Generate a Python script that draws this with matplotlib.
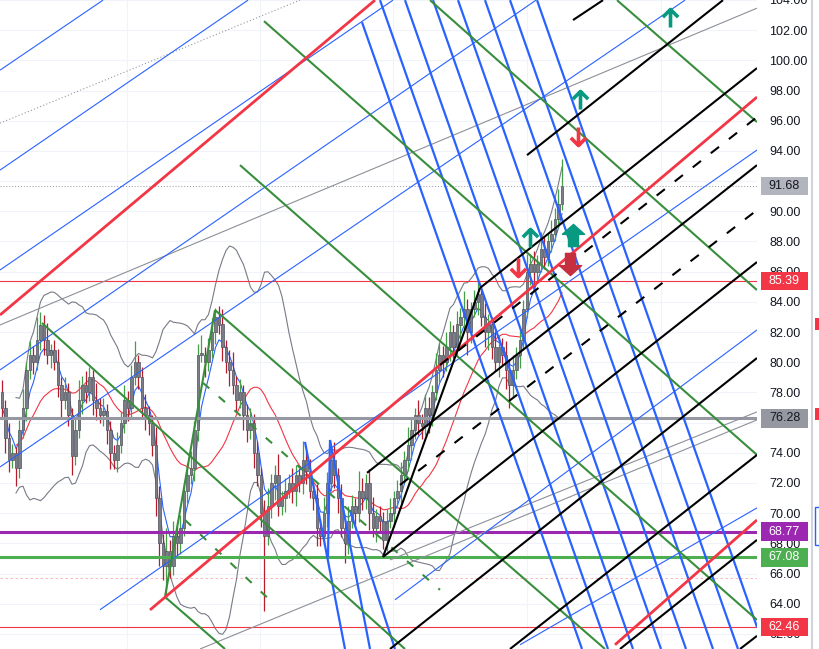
import numpy as np
import pandas as pd
import matplotlib
matplotlib.use("Agg")
import matplotlib.pyplot as plt
from matplotlib import transforms
from matplotlib.path import Path
from matplotlib.patches import Rectangle

plt.rcParams['font.family'] = ['Liberation Sans', 'DejaVu Sans']

# ---------------- data ----------------
# daily closes, oldest first; bar i sits at time slot X0 + STEP*i
closes = [77.0, 75.0, 73.5, 74.0, 73.0, 75.5, 77.0, 79.5, 80.5, 80.0,
          81.5, 82.5, 81.5, 80.5, 80.8, 80.0, 78.5, 77.5, 78.0, 76.5,
          73.8, 75.5, 77.5, 78.5, 78.0, 79.0, 77.5, 77.0, 76.5, 76.8,
          75.5, 74.0, 73.5, 74.5, 76.0, 77.5, 77.0, 79.0, 80.0, 79.0,
          77.0, 76.5, 76.0, 74.5, 71.0, 68.0, 66.5, 67.5, 66.5, 68.5,
          68.0, 69.0, 71.5, 72.5, 73.0, 75.5, 80.5, 80.5, 80.0, 80.8,
          82.0, 83.0, 82.5, 81.0, 80.0, 79.5, 78.5, 77.5, 78.0, 76.5,
          75.5, 76.0, 74.0, 72.5, 70.0, 68.5, 70.5, 72.0, 72.5, 70.5,
          71.0, 71.5, 72.0, 71.5, 72.5, 72.0, 73.5, 72.8, 71.5, 71.0,
          69.0, 68.5, 70.0, 72.0, 73.5, 72.5, 71.0, 69.0, 68.0, 69.5,
          70.5, 70.0, 71.5, 71.0, 72.0, 70.0, 69.0, 69.8, 69.5, 68.2,
          69.5, 70.0, 71.0, 71.5, 72.5, 73.5, 74.5, 75.5, 76.5, 76.0,
          75.8, 77.0, 76.5, 78.0, 79.5, 80.5, 80.0, 81.0, 82.0, 81.0,
          82.5, 83.0, 83.5, 82.0, 83.5, 84.0, 84.5, 83.0, 82.0, 82.5,
          81.0, 80.0, 81.0, 80.5, 79.5, 78.5, 79.5, 80.5, 81.5, 83.5,
          86.0, 86.5, 86.0, 86.5, 87.5, 87.0, 88.0, 88.5, 89.5, 90.5,
          91.68]
up_wick = [0.8, 0.5, 1.0, 0.6, 0.4, 0.7, 1.2, 0.5, 0.9, 0.6,
           1.5, 0.8, 0.6, 1.1, 0.4, 0.7, 0.9, 0.5, 1.0, 0.6,
           0.5, 0.8, 1.3, 0.6, 0.9, 0.7, 0.5, 1.1, 0.6, 0.8,
           0.4, 0.6, 0.5, 0.9, 0.7, 1.0, 0.6, 0.8, 1.4, 0.5,
           0.7, 0.9, 0.6, 0.5, 1.2, 0.8, 0.6, 1.5, 0.7, 1.0,
           0.6, 0.9, 0.5, 0.8, 1.1, 0.6, 0.7, 1.3, 0.5, 0.8,
           0.9, 0.6, 0.7, 1.0, 0.5, 0.8, 1.2, 0.6, 0.9, 0.5,
           0.7, 1.0, 0.6, 0.8, 0.5, 0.9, 1.2, 0.6, 0.7, 1.4,
           0.5, 0.8, 0.6, 1.0, 0.7, 0.5, 1.3, 0.6, 0.8, 0.5,
           0.9, 0.6, 1.1, 0.7, 0.8, 1.2, 0.5, 0.9, 0.6, 1.0,
           0.7, 0.5, 1.3, 0.8, 0.6, 0.9, 1.1, 0.5, 0.7, 0.6,
           0.8, 1.0, 0.5, 0.7, 0.9, 0.6, 1.2, 0.8, 0.5, 1.0,
           0.6, 0.9, 0.7, 0.5, 1.1, 0.8, 0.6, 1.0, 0.7, 0.5,
           0.9, 0.6, 1.2, 0.7, 0.5, 0.8, 1.0, 0.6, 0.9, 0.7,
           0.5, 1.1, 0.8, 0.6, 0.9, 0.7, 1.0, 0.5, 0.8, 0.6,
           1.2, 0.7, 0.9, 0.6, 1.1, 0.8, 0.5, 0.9, 0.7, 1.0,
           1.8]
down_wick = [0.6, 1.0, 0.8, 0.5, 1.2, 0.7, 0.5, 0.9, 0.6, 0.8,
             0.5, 0.7, 1.0, 0.6, 0.9, 0.5, 0.8, 1.1, 0.6, 0.7,
             1.3, 0.6, 0.5, 0.9, 0.7, 0.6, 1.0, 0.8, 0.5, 0.7,
             0.9, 1.1, 0.6, 0.8, 0.5, 0.7, 0.9, 0.6, 0.5, 0.8,
             0.6, 1.0, 0.8, 0.7, 1.2, 1.5, 0.9, 2.2, 0.8, 0.6,
             1.0, 0.7, 0.5, 0.8, 0.6, 0.9, 0.7, 0.5, 1.0, 0.6,
             0.5, 0.8, 0.6, 0.9, 0.7, 1.1, 0.6, 0.8, 0.5, 1.0,
             0.8, 0.6, 1.0, 0.7, 0.9, 5.0, 0.6, 0.8, 1.1, 0.7,
             0.6, 0.9, 0.5, 0.8, 1.0, 0.6, 0.7, 0.9, 0.5, 0.8,
             1.2, 0.7, 0.6, 0.9, 0.5, 0.8, 1.0, 0.6, 1.3, 0.7,
             0.5, 0.9, 0.6, 0.8, 0.7, 1.1, 0.6, 0.9, 0.8, 0.6,
             0.7, 0.5, 0.9, 0.6, 0.8, 0.5, 0.7, 1.0, 0.6, 0.8,
             0.9, 0.6, 1.2, 0.7, 0.5, 0.8, 1.0, 0.6, 0.9, 0.7,
             0.6, 1.1, 0.8, 1.5, 0.7, 0.5, 0.9, 0.6, 1.0, 1.2,
             0.8, 0.6, 1.0, 0.7, 1.3, 1.5, 0.8, 0.6, 0.9, 0.7,
             0.6, 0.9, 1.0, 0.7, 0.5, 0.8, 0.6, 0.7, 0.5, 0.6,
             0.4]

# horizontal levels: price, colour, width
levels = [(85.39, '#f23645', 0.8), (76.28, '#9598a1', 2.2),
          (68.77, '#9c27b0', 2.2), (67.08, '#4caf50', 2.2),
          (62.46, '#f23645', 0.8)]
# price labels on the scale: price, box colour, text colour
price_tags = [(91.68, '#b2b5be', '#131722'), (85.39, '#f23645', 'white'),
              (76.28, '#9598a1', '#131722'), (68.77, '#9c27b0', 'white'),
              (67.08, '#4caf50', 'white'), (62.46, '#f23645', 'white')]
last_price = 91.68

# trend line drawings: (t0, p0, t1, p1)
thin_blue = [(0, 99.35, 103, 103.99), (0, 92.73, 248, 103.99),
             (0, 86.11, 393, 103.99), (0, 79.49, 536, 103.99),
             (0, 73.06, 685, 103.99), (100, 63.6, 757, 94.06),
             (395, 64.26, 757, 82.14), (520, 61.28, 757, 70.35)]
thick_blue = [(362, 102.53, 582, 61.0), (380, 103.99, 608, 61.0),
              (405, 103.99, 633, 61.0), (433, 103.99, 661, 61.0),
              (458, 103.99, 686, 61.0), (485, 103.99, 713, 61.0),
              (510, 103.99, 738, 61.0), (537, 103.99, 757, 62.46),
              (305, 74.72, 345, 61.0), (330, 74.85, 370, 61.0),
              (328, 67.10, 330, 74.85), (350, 70.2, 395, 61.0)]
red_lines = [(0, 83.13, 375, 103.99), (150, 63.59, 757, 97.57),
             (615, 61.28, 757, 69.55)]
green_lines = [(430, 103.99, 757, 84.78), (264, 102.60, 757, 73.86),
               (240, 93.06, 757, 62.93), (617, 103.99, 757, 95.91),
               (42, 82.60, 405, 61.0), (215, 83.46, 605, 61.0),
               (165, 64.45, 215, 83.46), (165, 64.45, 225, 61.0)]
green_dashed = [(203, 78.63, 440, 64.92), (185, 69.55, 275, 63.92)]
black_lines = [(383, 67.10, 480, 84.92), (480, 84.92, 757, 99.49),
               (367, 72.67, 757, 93.06), (383, 67.10, 757, 86.64),
               (390, 61.0, 757, 80.28), (510, 61.0, 757, 73.86),
               (620, 61.0, 757, 68.23), (740, 61.0, 757, 61.87),
               (527, 93.72, 723, 103.99), (573, 102.67, 603, 103.99)]
black_dashed = [(440, 79.82, 757, 96.24), (400, 71.87, 757, 90.08)]
gray_lines = [(0, 82.47, 757, 103.46), (200, 61.0, 757, 76.18),
              (390, 66.90, 757, 76.71)]
gray_dotted = [(0, 95.84, 300, 103.99)]

# signal arrows: (t, price)
up_outline = [(670, 102.8), (580, 97.4), (530, 88.2)]
down_outline = [(578, 95.0), (518, 86.3)]
up_filled = [(573, 88.4)]
down_filled = [(570, 86.5)]

# ---------------- derived series ----------------
X0, STEP = 2.0, 3.5
c = np.array(closes)
o = np.r_[c[0] + 1.0, c[:-1]]
hi = np.maximum(o, c) + np.array(up_wick)
lo = np.minimum(o, c) - np.array(down_wick)
t = X0 + STEP * np.arange(len(c))

s = pd.Series(c)
mid = s.rolling(20, min_periods=5).mean()
sd = s.rolling(20, min_periods=5).std()
fast = s.ewm(span=5, adjust=False).mean()

# ---------------- figure ----------------
W, H = 820, 649
fig = plt.figure(figsize=(W / 100, H / 100), dpi=100)
ax = fig.add_axes([0, 0, 757 / W, 1])
ax.set_xlim(0, 757)
ax.set_ylim(61.0, 104.0)
for sp in ax.spines.values():
    sp.set_visible(False)

ax.set_yticks(np.arange(62, 105, 2))
ax.set_yticklabels([f'{v:.2f}' for v in np.arange(62, 105, 2)])
ax.yaxis.tick_right()
ax.tick_params(axis='y', length=0, pad=9, labelsize=9, labelcolor='#131722')
ax.set_xticks([127, 260, 393, 527, 661])
ax.tick_params(axis='x', length=0, labelbottom=False)
ax.grid(True, color='#f0f3fa', lw=0.8)
ax.set_axisbelow(True)

# indicators
ax.plot(t, mid + 2 * sd, color='#787b86', lw=0.8, zorder=2)
ax.plot(t, mid - 2 * sd, color='#787b86', lw=0.8, zorder=2)
ax.plot(t, mid, color='#f23645', lw=0.8, zorder=2)
ax.plot(t, fast, color='#2962ff', lw=0.8, zorder=2)

# candles: grey bodies, coloured wicks
for ti, oi, hi_, lo_, ci in zip(t, o, hi, lo, c):
    col = '#43a047' if ci >= oi else '#b71c2c'
    ax.vlines(ti, lo_, hi_, color=col, lw=0.9, zorder=3)
    ax.add_patch(Rectangle((ti - 1.2, min(oi, ci)), 2.4, max(abs(ci - oi), 0.08),
                           fc='#7b7e87', ec='#50535e', lw=0.5, zorder=4))

# horizontal levels
for p, col, lw in levels:
    ax.axhline(p, color=col, lw=lw, zorder=5)
ax.axhline(last_price, color='#9598a1', lw=0.7, ls=(0, (1, 2)), zorder=5)
ax.axhline(65.7, color='#f7525f', lw=0.6, ls=(0, (3, 3)), alpha=0.5, zorder=5)


def draw(segs, **kw):
    for t0, p0, t1, p1 in segs:
        ax.plot([t0, t1], [p0, p1], solid_capstyle='butt', zorder=6, **kw)


draw(gray_lines, color='#8d9099', lw=0.8)
draw(gray_dotted, color='#9598a1', lw=0.8, ls=(0, (1, 2)))
draw(thin_blue, color='#2962ff', lw=0.8)
draw(thick_blue, color='#2962ff', lw=1.6)
draw(green_lines, color='#388e3c', lw=1.5)
draw(green_dashed, color='#388e3c', lw=1.5, ls=(0, (4, 6)))
draw(red_lines, color='#f23645', lw=2.0)
draw(black_lines, color='#000000', lw=1.5)
draw(black_dashed, color='#000000', lw=1.5, ls=(0, (5, 6)))

# arrows: open chevron arrows and filled block arrows
M, L = Path.MOVETO, Path.LINETO
open_up = Path([(0, -1), (0, 1), (-0.85, 0.15), (0, 1), (0.85, 0.15)],
               [M, L, M, L, L])
open_dn = Path([(x, -y) for x, y in open_up.vertices], open_up.codes)
for x, p in up_outline:
    ax.plot(x, p, marker=open_up, ms=13, mfc='none', mec='#089981', mew=2.6,
            zorder=8)
for x, p in down_outline:
    ax.plot(x, p, marker=open_dn, ms=13, mfc='none', mec='#f23645', mew=2.6,
            zorder=8)
block_up = Path([(-1, 0.1), (0, 1), (1, 0.1), (0.45, 0.1), (0.45, -1),
                 (-0.45, -1), (-0.45, 0.1), (-1, 0.1)])
block_dn = Path([(x, -y) for x, y in block_up.vertices])
for x, p in up_filled:
    ax.plot(x, p, marker=block_up, ms=16, color='#089981', zorder=8)
for x, p in down_filled:
    ax.plot(x, p, marker=block_dn, ms=16, color='#c62f3e', zorder=8)

# price tags on the scale
tr = transforms.blended_transform_factory(fig.transFigure, ax.transData)
for p, fc, tc in price_tags:
    ax.add_patch(Rectangle((761 / W, p - 0.62), 47 / W, 1.24, transform=tr,
                           fc=fc, ec='none', clip_on=False, zorder=10))
    ax.text(784.5 / W, p, f'{p:.2f}', transform=tr, ha='center', va='center',
            fontsize=9, color=tc, zorder=11, clip_on=False)

# right-hand strip of the next pane
fig.add_artist(plt.Line2D([812.5 / W] * 2, [0, 1], color='#d1d4dc', lw=1.5))
fig.add_artist(Rectangle((815 / W, 1 - 330 / H), 5 / W, 12 / H, fc='#f23645', ec='none'))
fig.add_artist(Rectangle((815 / W, 1 - 420 / H), 5 / W, 12 / H, fc='#f23645', ec='none'))
fig.add_artist(Rectangle((815.5 / W, 1 - 545 / H), 6 / W, 38 / H, fc='none', ec='#2962ff', lw=1))

fig.savefig('out.png', dpi=100)
